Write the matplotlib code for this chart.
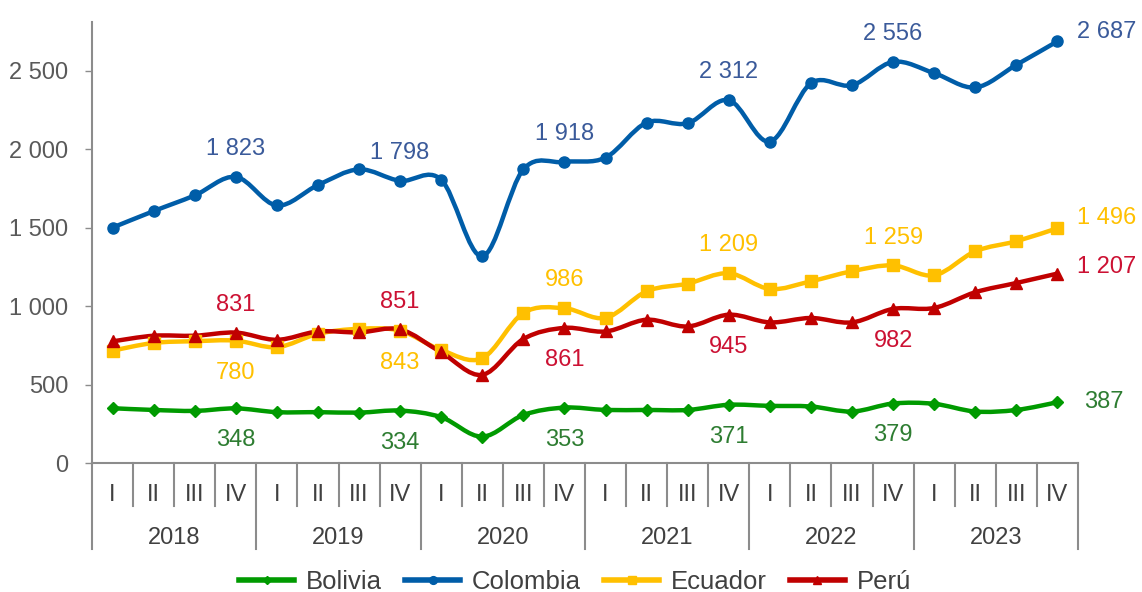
import matplotlib
matplotlib.use("Agg")
import matplotlib.pyplot as plt
from matplotlib.path import Path
from matplotlib.patches import PathPatch
from matplotlib.lines import Line2D
import matplotlib.transforms as mtransforms
import numpy as np

plt.rcParams['font.family'] = ['Liberation Sans', 'DejaVu Sans']

# ---------------- data ----------------
quarters = ["I", "II", "III", "IV"] * 6
years = ["2018", "2019", "2020", "2021", "2022", "2023"]

bolivia = [349, 338, 332, 348, 324, 324, 321, 334, 292, 168, 306, 353,
           338, 338, 338, 371, 364, 360, 328, 379, 377, 328, 338, 387]
colombia = [1500, 1605, 1705, 1823, 1641, 1771, 1871, 1798, 1805, 1317, 1871, 1918,
            1946, 2169, 2165, 2312, 2048, 2420, 2407, 2556, 2484, 2393, 2537, 2687]
ecuador = [716, 765, 776, 780, 738, 823, 855, 843, 720, 668, 956, 986,
           925, 1094, 1143, 1209, 1109, 1158, 1222, 1259, 1196, 1349, 1413, 1496]
peru = [775, 811, 811, 831, 785, 838, 832, 851, 705, 562, 790, 861,
        838, 913, 870, 945, 896, 924, 896, 982, 988, 1088, 1147, 1207]

series_names = ["Bolivia", "Colombia", "Ecuador", "Perú"]
label_idx = [3, 7, 11, 15, 19]
# label placement: 'a' above, 'b' below for label_idx points
label_pos = {
    "Bolivia": ["b", "b", "b", "b", "b"],
    "Colombia": ["a", "a", "a", "a", "a"],
    "Ecuador": ["b", "b", "a", "a", "a"],
    "Perú": ["a", "a", "b", "b", "b"],
}

# ---------------- style ----------------
line_colors = {"Bolivia": "#009A00", "Colombia": "#005DA8", "Ecuador": "#FFC000", "Perú": "#C00000"}
text_colors = {"Bolivia": "#2E7D32", "Colombia": "#3A5A9A", "Ecuador": "#FFC000", "Perú": "#CC1133"}
markers = {"Bolivia": "D", "Colombia": "o", "Ecuador": "s", "Perú": "^"}
msizes = {"Bolivia": 6, "Colombia": 8, "Ecuador": 8.5, "Perú": 9}
right_dy = {"Bolivia": 0.5, "Colombia": 6.5, "Ecuador": 7, "Perú": 4.5}
right_dx = {"Bolivia": 19, "Colombia": 14, "Ecuador": 14, "Perú": 14}
FS = 17
axis_grey = "#8C8C8C"
tick_col = "#595959"

data = {"Bolivia": bolivia, "Colombia": colombia, "Ecuador": ecuador, "Perú": peru}

fig = plt.figure(figsize=(11.42, 5.92), dpi=100)
ax = fig.add_axes([92 / 1142, 1 - 463 / 592, (1078 - 92) / 1142, (463 - 22) / 592])

x = np.arange(len(quarters))


def smooth_path(xs, ys):
    pts = np.column_stack([xs, ys]).astype(float)
    n = len(pts)
    verts = [pts[0]]
    codes = [Path.MOVETO]
    for i in range(n - 1):
        p0 = pts[i - 1] if i > 0 else pts[i]
        p1 = pts[i]
        p2 = pts[i + 1]
        p3 = pts[i + 2] if i + 2 < n else pts[i + 1]
        c1 = p1 + (p2 - p0) / 6.0
        c2 = p2 - (p3 - p1) / 6.0
        verts += [c1, c2, p2]
        codes += [Path.CURVE4] * 3
    return Path(verts, codes)


def fmt(v):
    return f"{v:,}".replace(",", " ")


for name in series_names:
    ys = data[name]
    col = line_colors[name]
    patch = PathPatch(smooth_path(x, ys), facecolor="none", edgecolor=col, lw=3.2,
                      capstyle="round", joinstyle="round", zorder=3)
    ax.add_patch(patch)
    ax.plot(x, ys, linestyle="none", marker=markers[name], markersize=msizes[name],
            color=col, markeredgecolor=col, zorder=4)
    for k, i in enumerate(label_idx):
        dy = 20 if label_pos[name][k] == "a" else -23
        ax.annotate(fmt(ys[i]), (x[i], ys[i]), xytext=(0, dy), textcoords="offset points",
                    ha="center", va="center", fontsize=FS, color=text_colors[name], zorder=5)
    ax.annotate(fmt(ys[-1]), (x[-1], ys[-1]), xytext=(right_dx[name], right_dy[name]),
                textcoords="offset points", ha="left", va="center", fontsize=FS,
                color=text_colors[name], annotation_clip=False, zorder=5)

ax.set_xlim(-0.5, len(quarters) - 0.5)
ax.set_ylim(0, 2810)
ax.set_yticks([0, 500, 1000, 1500, 2000, 2500])
ax.set_yticklabels([fmt(v) for v in [0, 500, 1000, 1500, 2000, 2500]])
ax.tick_params(axis="y", direction="out", length=5, width=1, color=axis_grey,
               labelsize=FS, labelcolor=tick_col, pad=12)

for s in ["top", "right"]:
    ax.spines[s].set_visible(False)
for s in ["left", "bottom"]:
    ax.spines[s].set_color(axis_grey)
    ax.spines[s].set_linewidth(1.5)

# two-level category axis
ax.set_xticks([])
trans = mtransforms.blended_transform_factory(ax.transData, ax.transAxes)
ax_h = 463 - 22
q_len = (506 - 463) / ax_h
y_len = (549 - 463) / ax_h
for j in range(len(quarters) + 1):
    L = y_len if j % 4 == 0 else q_len
    ax.add_line(Line2D([j - 0.5, j - 0.5], [0, -L], transform=trans, color=axis_grey,
                       lw=1.5, clip_on=False))
for i, q in enumerate(quarters):
    ax.text(i, -(495 - 463) / ax_h, q, transform=trans, ha="center", va="center",
            fontsize=FS, color="#404040")
for k, yr in enumerate(years):
    ax.text(4 * k + 1.5, -(538 - 463) / ax_h, yr, transform=trans, ha="center", va="center",
            fontsize=FS, color="#404040")

handles = [Line2D([], [], color=line_colors[n], lw=4, marker=markers[n],
                  markersize=msizes[n] * 0.7, markeredgecolor=line_colors[n])
           for n in series_names]
fig.legend(handles, series_names, loc="center", bbox_to_anchor=(575 / 1142, 1 - 582 / 592),
           ncol=4, frameon=False, fontsize=18.5, handlelength=2.15, handletextpad=0.45,
           columnspacing=0.9, labelcolor="#404040", borderpad=0, borderaxespad=0)

fig.savefig("out.png", dpi=100)
